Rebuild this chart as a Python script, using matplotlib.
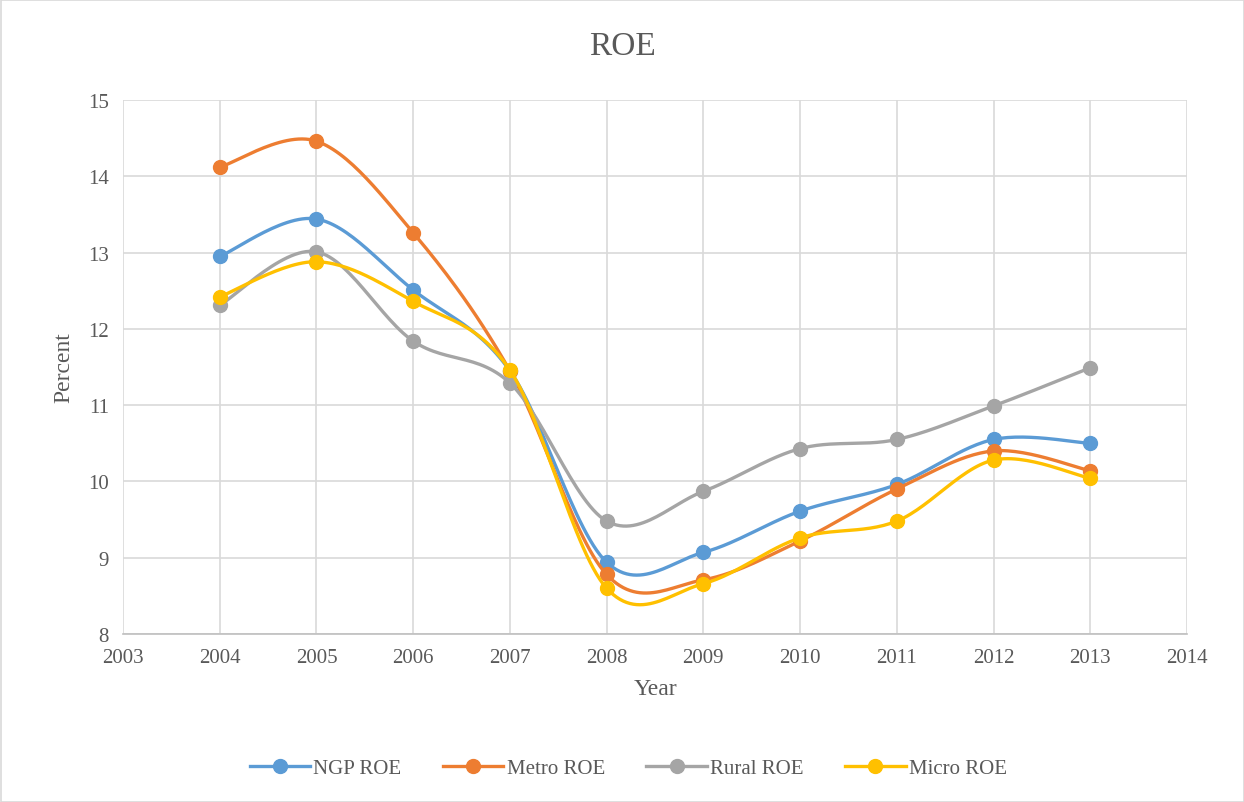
import numpy as np
import matplotlib
matplotlib.use('Agg')
import matplotlib.pyplot as plt
from matplotlib.patches import Rectangle

years = [2004, 2005, 2006, 2007, 2008, 2009, 2010, 2011, 2012, 2013]
ngp_roe = [12.95, 13.44, 12.51, 11.45, 8.94, 9.07, 9.61, 9.96, 10.55, 10.50]
metro_roe = [14.12, 14.46, 13.26, 11.45, 8.78, 8.71, 9.22, 9.90, 10.40, 10.14]
rural_roe = [12.31, 13.01, 11.84, 11.29, 9.48, 9.87, 10.43, 10.55, 10.99, 11.49]
micro_roe = [12.42, 12.88, 12.36, 11.46, 8.60, 8.66, 9.26, 9.48, 10.28, 10.04]

series = [('NGP ROE', ngp_roe, '#5B9BD5'),
          ('Metro ROE', metro_roe, '#ED7D31'),
          ('Rural ROE', rural_roe, '#A5A5A5'),
          ('Micro ROE', micro_roe, '#FFC000')]


def smooth(x, y, n=30):
    # catmull-rom style bezier, like excel smoothed lines
    x = np.asarray(x, float)
    y = np.asarray(y, float)
    px, py = [], []
    for i in range(len(x) - 1):
        x0, y0 = (x[i - 1], y[i - 1]) if i > 0 else (x[i], y[i])
        x3, y3 = (x[i + 2], y[i + 2]) if i + 2 < len(x) else (x[i + 1], y[i + 1])
        x1, y1, x2, y2 = x[i], y[i], x[i + 1], y[i + 1]
        c1x, c1y = x1 + (x2 - x0) / 6, y1 + (y2 - y0) / 6
        c2x, c2y = x2 - (x3 - x1) / 6, y2 - (y3 - y1) / 6
        t = np.linspace(0, 1, n)
        bx = (1-t)**3*x1 + 3*(1-t)**2*t*c1x + 3*(1-t)*t**2*c2x + t**3*x2
        by = (1-t)**3*y1 + 3*(1-t)**2*t*c1y + 3*(1-t)*t**2*c2y + t**3*y2
        px.extend(bx)
        py.extend(by)
    return px, py


plt.rcParams['font.family'] = ['Liberation Serif', 'DejaVu Serif']
txt = '#595959'

fig = plt.figure(figsize=(12.44, 8.03), dpi=100)
ax = fig.add_axes([123/1244, 1 - 635/803, (1187-123)/1244, (635-101)/803])

for name, vals, col in series:
    sx, sy = smooth(years, vals)
    ax.plot(sx, sy, color=col, lw=2.4, solid_capstyle='round')
    ax.plot(years, vals, 'o', color=col, ms=10)
    ax.plot([], [], color=col, lw=2.4, marker='o', ms=10, label=name)

ax.set_xlim(2003, 2014)
ax.set_ylim(8, 15)
ax.set_xticks(range(2003, 2015))
ax.set_yticks(range(8, 16))
ax.grid(True, color='#D9D9D9', lw=1.2)
ax.set_axisbelow(True)
for s in ['top', 'right', 'left']:
    ax.spines[s].set_visible(False)
ax.spines['bottom'].set_color('#BFBFBF')
ax.spines['bottom'].set_linewidth(1.2)
ax.tick_params(length=0, labelsize=15, labelcolor=txt, pad=10)

ax.set_xlabel('Year', fontsize=17, color=txt, labelpad=8)
ax.set_ylabel('Percent', fontsize=17, color=txt, labelpad=10)
fig.text(0.5, 1 - 47/803, 'ROE', ha='center', va='center', fontsize=24, color=txt)

leg = fig.legend(loc='center', bbox_to_anchor=(0.505, 1 - 769/803), ncol=4,
                 frameon=False, fontsize=15, handlelength=2.9, handletextpad=0.15,
                 columnspacing=2.0)
for t in leg.get_texts():
    t.set_color(txt)

fig.patches.append(Rectangle((0.5/1244, 0.5/803), 1 - 1/1244, 1 - 1/803,
                             transform=fig.transFigure, fill=False,
                             edgecolor='#D9D9D9', lw=1.2))

fig.savefig('out.png', dpi=100)
